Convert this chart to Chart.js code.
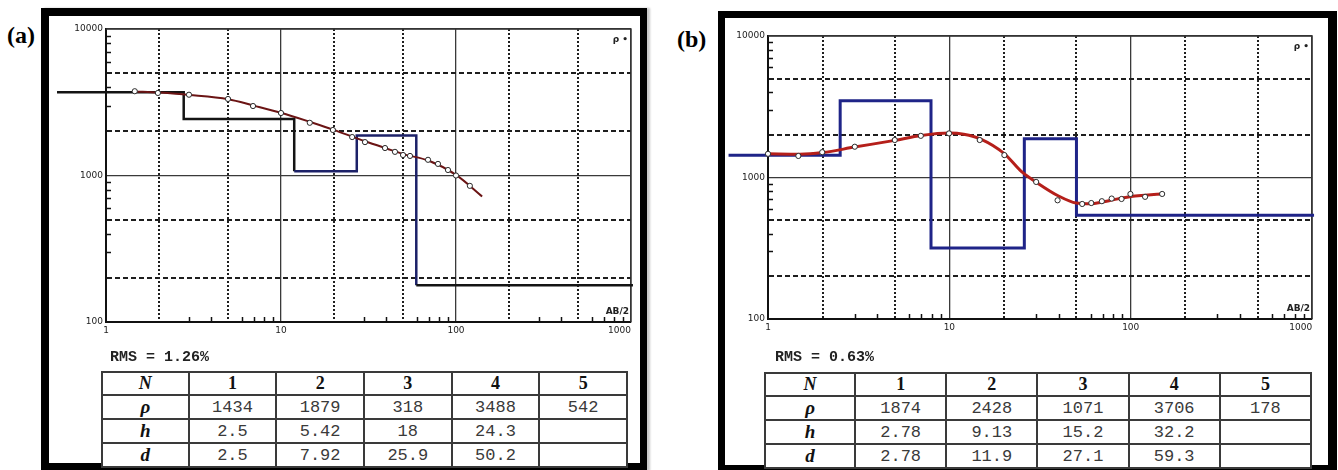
<!DOCTYPE html>
<html>
<head>
<meta charset="utf-8">
<script src="https://cdn.jsdelivr.net/npm/chart.js@4.4.1/dist/chart.umd.min.js"></script>
<style>
  body { margin: 0; width: 1338px; height: 470px; position: relative; overflow: hidden; background: #fff; }
  .panel { position: absolute; box-sizing: border-box; border-style: solid; border-color: #000; background: #fff; }
  #panelA { left: 41px; top: 8px; width: 606px; height: 463px; border-width: 8px 7px 8px 8px; box-shadow: 3px 0 2px #c8c8c8; }
  #panelB { left: 718px; top: 11px; width: 619px; height: 460px; border-width: 7px 9px 6px 7px; }
  .tag { position: absolute; font: bold 24px "Liberation Serif", "DejaVu Serif", serif; color: #000; }
  canvas { position: absolute; }
  .rms { position: absolute; font: bold 15px "Liberation Mono", "DejaVu Sans Mono", monospace; color: #222; line-height: 15px; }
  table.params { position: absolute; border-collapse: collapse; table-layout: fixed; border: 2px solid #2b2b2b; background: #fff; }
  table.params td { border: 2px solid #3a3a3a; text-align: center; padding: 0; font: 17px "Liberation Mono", "DejaVu Sans Mono", monospace; color: #3a3a3a; line-height: 1; }
  table.params tr.hd td { font: bold 18px "Liberation Serif", "DejaVu Serif", serif; color: #111; }
  table.params td.lab { font: bold italic 19px "Liberation Serif", "DejaVu Serif", serif; color: #111; }
</style>
</head>
<body>
<div class="panel" id="panelA"></div>
<div class="panel" id="panelB"></div>
<div class="tag" style="left:7px; top:22px;">(a)</div>
<div class="tag" style="left:677px; top:26px;">(b)</div>

<canvas id="chartA" width="610" height="340" style="left:49px; top:16px;"></canvas>
<canvas id="chartB" width="613" height="340" style="left:725px; top:18px;"></canvas>

<div class="rms" style="left:110px; top:350px;">RMS = 1.26%</div>
<div class="rms" style="left:775px; top:350px;">RMS = 0.63%</div>
<table class="params" id="tableA" style="left:101px; top:371px; width:527px; height:89px;"></table>
<table class="params" id="tableB" style="left:764px; top:372px; width:548px; height:89px;"></table>

<script>
// ---- panel (a) ----
const stepAx = [0.525, 2.78, 11.9, 27.1, 59.3, 1026];
const stepAy = [3706, 2428, 1071, 1874, 178, 178];
const stepAColors = ['#141414', '#141414', '#1c2168', '#1c2168', '#141414'];
const obsAx = [1.46, 1.98, 2.98, 4.98, 6.92, 10, 14.6, 19.8, 25.5, 30.2, 39.3, 44.8, 49.8, 54.6, 69.2, 78.9, 90, 100, 120];
const obsAy = [3760, 3660, 3560, 3330, 2980, 2670, 2290, 2045, 1830, 1690, 1540, 1450, 1380, 1360, 1280, 1200, 1090, 1000, 850];
const fitAx = [1.46, 2, 3, 5, 7, 10, 15, 20, 30, 40, 50, 70, 100, 141];
const fitAy = [3750, 3680, 3550, 3320, 3000, 2680, 2300, 2050, 1720, 1530, 1400, 1260, 1010, 720];

// ---- panel (b) ----
const stepBx = [0.606, 2.5, 7.92, 25.9, 50.2, 1025];
const stepBy = [1434, 3488, 318, 1879, 542, 542];
const stepBColors = ['#1f2488', '#1f2488', '#1f2488', '#1f2488', '#1f2488'];
const obsBx = [1, 1.47, 1.99, 3.01, 5.0, 6.96, 9.96, 14.7, 20.1, 30.1, 39.5, 54, 60.6, 69.3, 78.5, 89, 99.6, 120, 149];
const obsBy = [1470, 1420, 1510, 1650, 1840, 1970, 2050, 1840, 1440, 930, 690, 650, 660, 680, 710, 705, 765, 730, 765];
const fitBx = [1, 1.5, 2, 3, 5, 7, 10, 12, 15, 20, 25, 30, 40, 50, 60, 70, 80, 100, 120, 150];
const fitBy = [1470, 1460, 1500, 1640, 1830, 1980, 2060, 2020, 1860, 1480, 1100, 930, 740, 660, 652, 670, 695, 735, 750, 765];

// axes (shared)
const xDecades = [1, 10, 100];
const yDecades = [100, 1000];
const multipliers = [1, 2, 3, 4, 5, 6, 7, 8, 9];
const xMax = 1000, yMax = 10000;

// tables
const layerN = [1, 2, 3, 4, 5];
const tableArho = ['1434', '1879', '318', '3488', '542'];
const tableAh = ['2.5', '5.42', '18', '24.3', ''];
const tableAd = ['2.5', '7.92', '25.9', '50.2', ''];
const tableBrho = ['1874', '2428', '1071', '3706', '178'];
const tableBh = ['2.78', '9.13', '15.2', '32.2', ''];
const tableBd = ['2.78', '11.9', '27.1', '59.3', ''];

function gridValues(decades, max) {
  const vals = [];
  decades.forEach(d => multipliers.forEach(m => vals.push(d * m)));
  vals.push(max);
  return vals;
}
const xGrid = gridValues(xDecades, xMax);
const yGrid = gridValues(yDecades, yMax);

function toPoints(xs, ys) {
  return xs.map((x, i) => ({ x: x, y: ys[i] }));
}

function isDecade(v) {
  const l = Math.log10(v);
  return Math.abs(l - Math.round(l)) < 1e-6;
}
function lead(v) {
  return Math.round(v / Math.pow(10, Math.floor(Math.log10(v) + 1e-9)));
}
function isMinor(v) {
  const m = lead(v);
  return !isDecade(v) && m !== 2 && m !== 5;
}

function axisOptions(min, max, values, dash, fitSize, lastLabel) {
  return {
    type: 'logarithmic',
    min: min,
    max: max,
    afterBuildTicks: axis => { axis.ticks = values.map(v => ({ value: v })); },
    afterFit: fitSize,
    ticks: {
      autoSkip: false,
      maxRotation: 0,
      padding: 3,
      color: '#222',
      font: { family: 'DejaVu Sans', size: 9 },
      // the last x label sits inside the frame, so pad it on the right
      callback: v => !isDecade(v) ? '' : (v === max && lastLabel ? lastLabel : String(v))
    },
    grid: {
      drawTicks: false,
      color: ctx => {
        const v = ctx.tick && ctx.tick.value;
        if (!v) return 'rgba(0,0,0,0)';
        if (isDecade(v)) return '#3a3a3a';
        return isMinor(v) ? 'rgba(0,0,0,0)' : '#1e1e1e';
      },
      lineWidth: ctx => {
        const v = ctx.tick && ctx.tick.value;
        if (!v) return 0;
        if (isDecade(v)) return 1.3;
        return isMinor(v) ? 0 : 2;
      }
    },
    border: {
      color: '#111',
      width: 2,
      dash: ctx => {
        const v = ctx.tick && ctx.tick.value;
        return (v && !isDecade(v)) ? dash : [];
      }
    }
  };
}

const framePlugin = {
  id: 'frame',
  beforeDatasetsDraw(chart) {
    const { ctx, chartArea: a, scales: { x, y } } = chart;
    ctx.save();
    ctx.strokeStyle = '#333';
    ctx.lineWidth = 1.3;
    ctx.beginPath();
    ctx.moveTo(a.left, a.top);
    ctx.lineTo(a.right, a.top);
    ctx.lineTo(a.right, a.bottom);
    ctx.stroke();

    // short inner ticks at 3,4,6,7,8,9
    ctx.strokeStyle = '#111';
    ctx.lineWidth = 1.5;
    xGrid.filter(isMinor).forEach(v => {
      const px = Math.round(x.getPixelForValue(v)) + 0.5;
      ctx.beginPath();
      ctx.moveTo(px, a.bottom);
      ctx.lineTo(px, a.bottom - 5);
      ctx.stroke();
    });
    yGrid.filter(isMinor).forEach(v => {
      const py = Math.round(y.getPixelForValue(v)) + 0.5;
      ctx.beginPath();
      ctx.moveTo(a.left, py);
      ctx.lineTo(a.left + 5, py);
      ctx.stroke();
    });

    ctx.fillStyle = '#222';
    ctx.font = 'bold 9px "DejaVu Sans"';
    ctx.textAlign = 'right';
    ctx.fillText('\u03c1 \u2022', a.right - 3, a.top + 13);
    ctx.fillText('AB/2', a.right - 2, a.bottom - 8);
    ctx.restore();
  }
};

function buildChart(id, step, stepColors, stepWidth, fit, fitColor, fitWidth, obs, pad) {
  return new Chart(document.getElementById(id), {
    type: 'line',
    data: {
      datasets: [
        {
          data: obs,
          showLine: false,
          pointRadius: 2.6,
          pointBorderWidth: 1,
          pointBorderColor: '#2a2a2a',
          pointBackgroundColor: '#fff',
          clip: false,
          order: 0
        },
        {
          data: fit,
          borderColor: fitColor,
          borderWidth: fitWidth,
          pointRadius: 0,
          cubicInterpolationMode: 'monotone',
          clip: false,
          order: 1
        },
        {
          data: step,
          stepped: 'before',
          borderColor: stepColors[0],
          borderWidth: stepWidth,
          segment: { borderColor: c => stepColors[c.p0DataIndex] },
          pointRadius: 0,
          clip: false,
          order: 2
        }
      ]
    },
    options: {
      responsive: false,
      animation: false,
      events: [],
      layout: { padding: pad },
      plugins: { legend: { display: false }, tooltip: { enabled: false } },
      scales: {
        x: axisOptions(xDecades[0], xMax, xGrid, [2, 2], s => { s.height = 20; }, '1000        '),
        y: axisOptions(yDecades[0], yMax, yGrid, [5, 3], s => { s.width = 40; }, null)
      }
    },
    plugins: [framePlugin]
  });
}

function fillTable(id, rho, h, d) {
  const rows = [
    ['<i>N</i>'].concat(layerN),
    ['<i>\u03c1</i>'].concat(rho),
    ['<i>h</i>'].concat(h),
    ['<i>d</i>'].concat(d)
  ];
  const heights = [23, 22, 22, 22];
  let html = '<colgroup><col style="width:16.5%">' + '<col>'.repeat(5) + '</colgroup>';
  rows.forEach((r, i) => {
    html += `<tr class="${i === 0 ? 'hd' : ''}" style="height:${heights[i]}px">`;
    r.forEach((c, j) => {
      html += `<td class="${j === 0 ? 'lab' : ''}">${c}</td>`;
    });
    html += '</tr>';
  });
  document.getElementById(id).innerHTML = html;
}

buildChart('chartA', toPoints(stepAx, stepAy), stepAColors, 2.5,
  toPoints(fitAx, fitAy), '#6b1414', 2, toPoints(obsAx, obsAy),
  { top: 13, left: 17, right: 28, bottom: 14 });

buildChart('chartB', toPoints(stepBx, stepBy), stepBColors, 3,
  toPoints(fitBx, fitBy), '#b51f1a', 3, toPoints(obsBx, obsBy),
  { top: 18, left: 3, right: 18, bottom: 19 });

fillTable('tableA', tableArho, tableAh, tableAd);
fillTable('tableB', tableBrho, tableBh, tableBd);
</script>
</body>
</html>
